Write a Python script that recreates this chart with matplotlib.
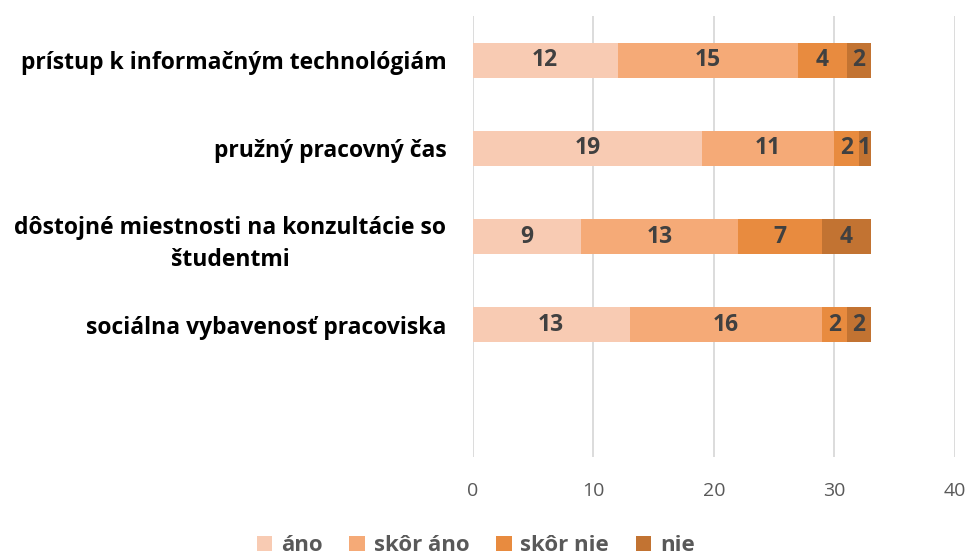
import matplotlib
matplotlib.use("Agg")
import matplotlib.pyplot as plt
import numpy as np

categories = ["prístup k informačným technológiám", "pružný pracovný čas",
              "dôstojné miestnosti na konzultácie so\nštudentmi",
              "sociálna vybavenosť pracoviska", ""]
series_names = ["áno", "skôr áno", "skôr nie", "nie"]
ano = [12, 19, 9, 13, 0]
skor_ano = [15, 11, 13, 16, 0]
skor_nie = [4, 2, 7, 2, 0]
nie = [2, 1, 4, 2, 0]
xticks = [0, 10, 20, 30, 40]

colors = ["#F8CBB3", "#F5AA77", "#E88B3F", "#C27332"]

plt.rcParams['font.family'] = ['Open Sans', 'DejaVu Sans']

fig = plt.figure(figsize=(9.71, 5.57), dpi=100)
ax = fig.add_axes([0.487, 0.1795, 0.4965, 0.7915])

y = np.arange(len(categories))
left = np.zeros(len(categories))
for name, vals, c in zip(series_names, [ano, skor_ano, skor_nie, nie], colors):
    vals = np.array(vals, dtype=float)
    ax.barh(y, vals, left=left, height=0.4, color=c, label=name, zorder=3)
    for yi, l, v in zip(y, left, vals):
        if v > 0:
            ax.text(l + v / 2, yi, f"{int(v)}", ha="center", va="center",
                    fontsize=16.5, fontweight="bold", color="#404040", zorder=4)
    left += vals

ax.set_xlim(0, 40)
ax.set_ylim(len(categories) - 0.5, -0.5)
ax.set_xticks(xticks)
ax.set_xticklabels([str(t) for t in xticks])
ax.set_yticks(y[:-1])
ax.set_yticklabels(categories[:-1], fontsize=16.5, fontweight="bold", color="black",
                   multialignment="center", linespacing=1.45)
ax.tick_params(axis="y", length=0, pad=19)
ax.tick_params(axis="x", length=0, pad=18, labelsize=14, labelcolor="#595959")
ax.grid(axis="x", color="#D9D9D9", linewidth=1.3, zorder=0)
for s in ax.spines.values():
    s.set_visible(False)

leg = fig.legend(loc="center", bbox_to_anchor=(0.49, 0.02), ncol=4, frameon=False,
                 prop={"size": 16, "weight": "bold"}, handlelength=0.7, handleheight=0.7,
                 handletextpad=0.4, columnspacing=1.2)
for t in leg.get_texts():
    t.set_color("#595959")

fig.savefig("out.png", dpi=100)
